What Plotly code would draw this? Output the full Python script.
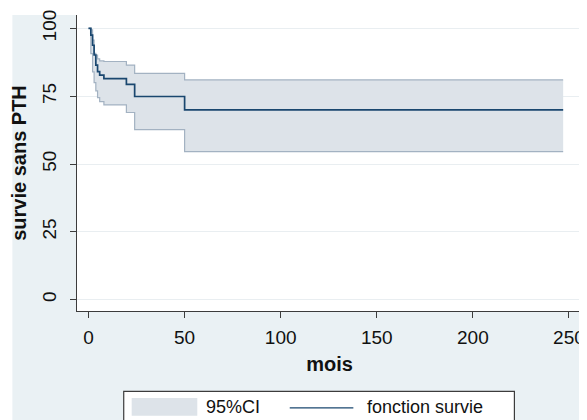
import plotly.graph_objects as go

# ---- data (months, survival %) ----
months = [0, 1.2, 2.1, 2.9, 3.8, 4.7, 5.8, 8.0, 19.7, 24.0, 50.0, 247.0]
survie = [100, 97.5, 93.8, 90.2, 86.5, 84.1, 82.8, 81.5, 79.4, 74.9, 70.0, 70.0]
ci_haut = [100, 99.5, 95.7, 90.8, 90.2, 88.8, 88.0, 87.8, 86.5, 83.4, 81.0, 81.0]
ci_bas = [100, 90.7, 84.0, 80.0, 77.0, 74.5, 73.0, 71.8, 69.0, 62.7, 54.6, 54.6]

x_ticks = [0, 50, 100, 150, 200, 250]
y_ticks = [0, 25, 50, 75, 100]
legend_labels = ["95%CI", "fonction survie"]

# ---- geometry (the page body adds an 8px offset) ----
OFF = 8
W, H = 587 - OFF, 420 - OFF
ML, MR, MT, MB = 77 - OFF, 2, 13 - OFF, 420 - 311
PW, PH = W - ML - MR, H - MT - MB
BG = "#eaf1f4"
FILL = "#dde3e9"
EDGE = "#a3b2c2"
NAVY = "#1a476f"
AXC = "#3c3c3c"
FONT = "Liberation Sans, Arial, sans-serif"


def px(x):
    """page x -> paper x"""
    return (x - OFF - ML) / PW


def py(y):
    """page y -> paper y"""
    return (H - MB - (y - OFF)) / PH


fig = go.Figure()
fig.add_trace(go.Scatter(x=months, y=ci_haut, mode="lines", line_shape="hv",
                         line=dict(color=EDGE, width=1.2), showlegend=False,
                         hoverinfo="skip"))
fig.add_trace(go.Scatter(x=months, y=ci_bas, mode="lines", line_shape="hv",
                         line=dict(color=EDGE, width=1.2), fill="tonexty",
                         fillcolor=FILL, showlegend=False, name=legend_labels[0]))
fig.add_trace(go.Scatter(x=months, y=survie, mode="lines", line_shape="hv",
                         line=dict(color=NAVY, width=1.7), showlegend=False,
                         name=legend_labels[1]))

shapes = [
    # white strips around the graph region
    dict(type="rect", xref="paper", yref="paper", x0=px(0), x1=px(12), y0=py(430), y1=py(0),
         fillcolor="white", line=dict(width=0), layer="below"),
    dict(type="rect", xref="paper", yref="paper", x0=px(0), x1=px(600), y0=py(13), y1=py(0),
         fillcolor="white", line=dict(width=0), layer="below"),
    dict(type="rect", xref="paper", yref="paper", x0=px(585.5), x1=px(600), y0=py(430), y1=py(0),
         fillcolor="white", line=dict(width=0), layer="below"),
    # legend box
    dict(type="rect", xref="paper", yref="paper", x0=px(124), x1=px(517), y0=py(430), y1=py(392),
         fillcolor="white", line=dict(color=AXC, width=1.2)),
    dict(type="rect", xref="paper", yref="paper", x0=px(132), x1=px(198), y0=py(416.5), y1=py(398.5),
         fillcolor=FILL, line=dict(width=0)),
    dict(type="line", xref="paper", yref="paper", x0=px(291), x1=px(355), y0=py(408.5), y1=py(408.5),
         line=dict(color=NAVY, width=1.4)),
]

annotations = [
    dict(text=legend_labels[0], xref="paper", yref="paper", x=px(205), y=py(408),
         xanchor="left", yanchor="middle", showarrow=False,
         font=dict(family=FONT, size=18, color="#111")),
    dict(text=legend_labels[1], xref="paper", yref="paper", x=px(367), y=py(408),
         xanchor="left", yanchor="middle", showarrow=False,
         font=dict(family=FONT, size=18, color="#111")),
]

fig.update_layout(
    width=W, height=H,
    margin=dict(l=ML, r=MR, t=MT, b=MB, pad=0),
    paper_bgcolor=BG, plot_bgcolor="white",
    font=dict(family=FONT, color="#111"),
    shapes=shapes, annotations=annotations,
    showlegend=False,
    xaxis=dict(range=[-6.0, 256.8], tickvals=x_ticks, ticks="outside", ticklen=6,
               tickwidth=1.3, tickcolor=AXC, showline=True, linecolor=AXC, linewidth=1.3,
               showgrid=False, zeroline=False, tickfont=dict(size=19),
               ticklabelstandoff=3, ticklabeloverflow="allow",
               title=dict(text="<b>mois</b>", font=dict(size=20), standoff=10)),
    yaxis=dict(range=[-4.18, 104.95], tickvals=y_ticks, ticks="outside", ticklen=6,
               tickwidth=1.3, tickcolor=AXC, showline=True, linecolor=AXC, linewidth=1.3,
               showgrid=True, gridcolor="#e9eef1", gridwidth=1, zeroline=False,
               tickangle=-90, tickfont=dict(size=19), ticklabelstandoff=6,
               ticklabeloverflow="allow",
               title=dict(text="<b>survie sans PTH</b>", font=dict(size=20), standoff=8)),
)

fig.write_html("out.html")
